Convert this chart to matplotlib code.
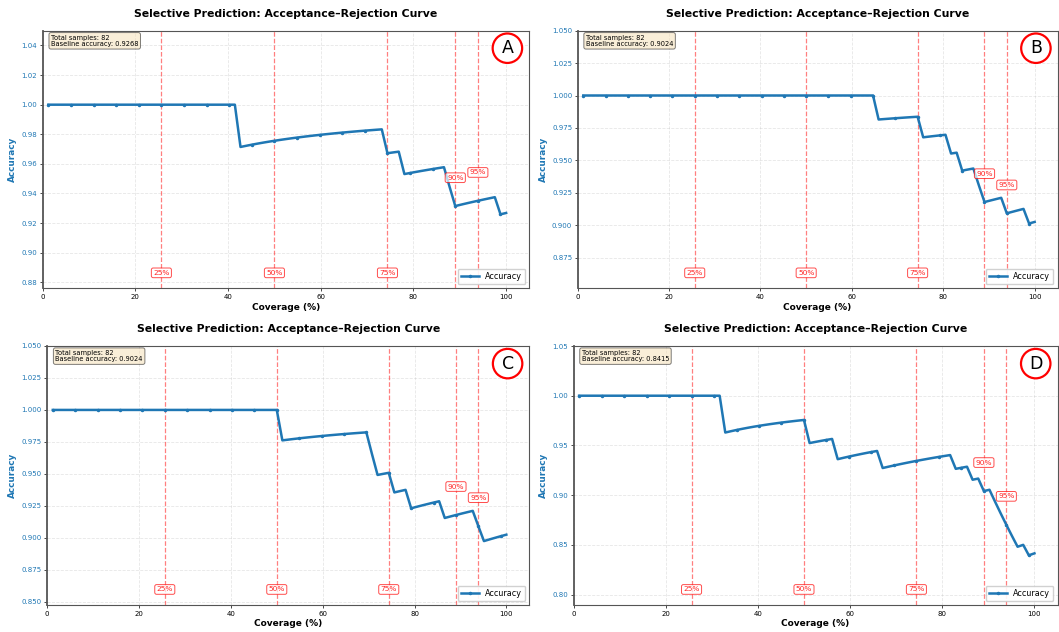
import numpy as np
import matplotlib
matplotlib.use("Agg")
import matplotlib.pyplot as plt
from matplotlib.ticker import MultipleLocator
import matplotlib.transforms as mtransforms

# ---------------- data ----------------
n_samples = 82
panel_letters = ["A", "B", "C", "D"]
# rank (1-based, sorted by confidence) of each misclassified sample
errors_A = [35, 61, 64, 72, 73, 81]
errors_B = [54, 62, 67, 69, 72, 73, 77, 81]
errors_C = [42, 58, 59, 62, 65, 71, 77, 78]
errors_D = [27, 42, 47, 55, 68, 71, 73, 75, 76, 77, 78, 79, 81]
panel_errors = [errors_A, errors_B, errors_C, errors_D]

threshold_ranks = [21, 41, 61, 73, 77]
threshold_labels = ["25%", "50%", "75%", "90%", "95%"]
threshold_on_curve = [False, False, False, True, True]

xticks = [0, 20, 40, 60, 80, 100]
ytick_steps = [0.02, 0.025, 0.025, 0.05]

title = "Selective Prediction: Acceptance\u2013Rejection Curve"

# ---------------- layout (pixels) ----------------
W, H = 1059, 632
boxes = [  # left, top, right, bottom in px
    (42.7, 30.7, 529.3, 288.3),
    (577.7, 30.7, 1057.5, 288.3),
    (47.2, 346.0, 529.3, 605.0),
    (573.5, 346.0, 1057.5, 605.0),
]

fig = plt.figure(figsize=(W / 100, H / 100), dpi=100)
blue = "#1f77b4"

for letter, errs, (l, t, r, b), ystep in zip(panel_letters, panel_errors, boxes, ytick_steps):
    ax = fig.add_axes([l / W, 1 - b / H, (r - l) / W, (b - t) / H])
    k = np.arange(1, n_samples + 1)
    correct = np.ones(n_samples)
    correct[np.array(errs) - 1] = 0
    acc = np.cumsum(correct) / k
    cov = k / n_samples * 100

    ax.plot(cov, acc, color=blue, lw=1.8, marker="o", ms=1.5, markevery=4,
            label="Accuracy", zorder=3)

    ymin = acc.min() - 0.05
    ax.set_ylim(ymin, 1.05)
    ax.set_xlim(0, 105)
    ax.yaxis.set_major_locator(MultipleLocator(ystep))
    ax.set_xticks(xticks)

    trans = mtransforms.blended_transform_factory(ax.transData, ax.transAxes)
    yr = 1.05 - ymin
    for tk, tl, on_curve in zip(threshold_ranks, threshold_labels, threshold_on_curve):
        x = tk / n_samples * 100
        ax.axvline(x, color="red", ls="--", lw=0.9, alpha=0.5, zorder=2)
        bbox = dict(boxstyle="round,pad=0.25", facecolor="white", edgecolor="red",
                    alpha=0.7, lw=0.7)
        if on_curve:
            ax.text(x, acc[tk - 1] + 0.11 * yr, tl, ha="center", va="center",
                    fontsize=5.3, color="red", alpha=0.85, bbox=bbox, zorder=4)
        else:
            ax.text(x, 0.06, tl, transform=trans, ha="center", va="center",
                    fontsize=5.3, color="red", alpha=0.85, bbox=bbox, zorder=4)

    ax.grid(True, ls="--", alpha=0.3, lw=0.6)
    ax.set_axisbelow(True)
    ax.set_title(title, fontsize=7.8, fontweight="bold", pad=10)
    ax.set_xlabel("Coverage (%)", fontsize=6.5, fontweight="bold", labelpad=2)
    ax.set_ylabel("Accuracy", fontsize=6.4, fontweight="bold", color=blue, labelpad=3)
    ax.tick_params(axis="y", labelsize=5.0, labelcolor=blue, length=2, width=0.5, pad=2)
    ax.tick_params(axis="x", labelsize=5.0, length=2, width=0.5, pad=2)
    for s in ax.spines.values():
        s.set_color("#555555")
        s.set_linewidth(0.8)
    ax.spines["left"].set_linewidth(1.3)

    baseline = acc[-1]
    ax.text(0.017, 0.985, f"Total samples: {n_samples}\nBaseline accuracy: {baseline:.4f}",
            transform=ax.transAxes, ha="left", va="top", fontsize=4.8, linespacing=1.1,
            bbox=dict(boxstyle="round,pad=0.3", facecolor="wheat", alpha=0.5, lw=0.7))

    ax.legend(loc="lower right", fontsize=5.8, handlelength=2.2, borderpad=0.4,
              framealpha=0.9)

    ax.text(0.955, 0.932, letter, transform=ax.transAxes, ha="center", va="center",
            fontsize=12.5, color="black", zorder=6,
            bbox=dict(boxstyle="circle,pad=0.33", facecolor="white", edgecolor="red", lw=1.6))

fig.savefig("out.png", dpi=100)
